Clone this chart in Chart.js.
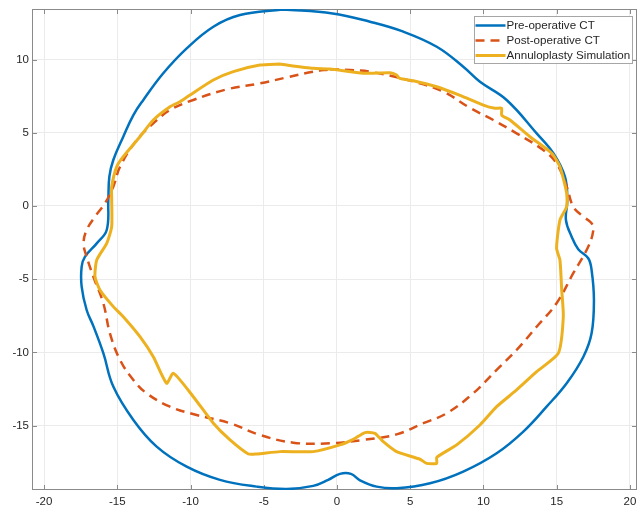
<!DOCTYPE html>
<html>
<head>
<meta charset="utf-8">
<script src="https://cdn.jsdelivr.net/npm/chart.js@4/dist/chart.umd.min.js"></script>
<style>
    html, body { margin: 0; padding: 0; background: #fff; }
    #wrap { width: 638px; height: 513px; }
</style>
</head>
<body>
<div id="wrap"><canvas id="graficoContorno" width="638" height="513"></canvas></div>
<script>
// contorno preoperatorio (CT)
const preX = [-3.7, -0.3, 2.25, 4.53, 6.81, 8.62, 9.76, 11.58, 13.63, 14.77, 15.56, 15.72, 15.63, 16.02, 16.47, 17.15, 17.38, 17.54, 17.38, 16.82, 15.68, 14.31, 12.72, 10.9, 8.62, 6.35, 4.07, 2.71, 1.57, 0.95, 0.2, -0.6, -1.62, -3.43, -5.48, -7.99, -10.26, -12.31, -13.9, -15.27, -15.95, -16.63, -17.09, -17.43, -17.43, -17.2, -16.4, -15.72, -15.61, -15.54, -15.27, -14.59, -13.9, -13.22, -11.86, -10.26, -8.44, -6.62, -3.7];
const preY = [13.42, 13.15, 12.58, 11.9, 10.87, 9.51, 8.48, 7.24, 4.96, 3.6, 2.0, 0.41, -0.96, -2.1, -2.95, -3.57, -4.37, -6.42, -8.69, -10.29, -12.1, -13.7, -15.4, -16.88, -18.13, -18.93, -19.27, -19.16, -18.73, -18.29, -18.29, -18.7, -19.11, -19.32, -19.16, -18.7, -17.8, -16.43, -14.61, -12.33, -10.05, -8.2, -7.1, -5.51, -4.14, -3.46, -2.55, -1.64, 0.41, 2.0, 3.14, 4.73, 6.21, 7.24, 9.06, 10.76, 12.24, 13.04, 13.42];

// contorno postoperatorio (CT)
const postX = [-0.48, 0.89, 2.25, 5.21, 7.26, 9.08, 10.67, 12.26, 14.08, 14.99, 15.68, 16.13, 16.82, 17.38, 17.5, 17.15, 16.13, 14.99, 13.63, 12.26, 10.9, 9.3, 7.49, 5.89, 4.07, 1.8, -0.48, -2.98, -5.26, -7.3, -9.58, -11.4, -12.99, -13.9, -14.81, -15.5, -15.95, -16.63, -17.09, -17.3, -17.09, -16.5, -15.84, -15.27, -14.81, -13.67, -12.54, -11.4, -9.81, -7.53, -5.26, -3.43, -1.62, -0.48];
const postY = [9.33, 9.28, 9.17, 8.5, 7.8, 6.7, 5.87, 4.96, 3.82, 2.91, 1.32, -0.05, -0.73, -1.18, -1.64, -2.78, -4.59, -6.64, -8.24, -9.83, -11.19, -12.79, -14.15, -14.83, -15.59, -15.97, -16.2, -16.16, -15.63, -14.83, -14.27, -13.7, -12.79, -11.88, -10.51, -8.69, -6.64, -4.83, -3.46, -2.55, -1.64, -0.7, 0.18, 1.32, 2.68, 4.5, 5.64, 6.55, 7.24, 7.96, 8.37, 8.78, 9.17, 9.33];

// simulacion de anuloplastia
const simX = [-3.89, -1.62, -0.48, 1.8, 3.62, 4.07, 4.28, 5.21, 6.81, 8.4, 9.99, 10.78, 11.24, 11.24, 11.81, 13.17, 14.66, 15.22, 15.68, 15.68, 15.22, 14.99, 15.22, 15.34, 15.45, 15.11, 13.63, 12.26, 10.9, 9.76, 8.17, 6.81, 6.81, 6.12, 5.67, 4.07, 3.16, 2.59, 1.91, 1.11, 0.2, -1.62, -3.89, -5.48, -6.05, -7.3, -8.44, -9.81, -11.17, -11.63, -12.54, -13.45, -14.59, -15.27, -16.18, -16.52, -16.4, -15.72, -15.38, -15.38, -15.38, -15.04, -14.59, -13.45, -12.54, -11.4, -10.72, -10.03, -8.44, -7.08, -5.26, -3.89];
const simY = [9.69, 9.4, 9.35, 9.06, 9.1, 8.94, 8.71, 8.55, 8.14, 7.55, 6.89, 6.67, 6.67, 6.21, 5.87, 4.73, 3.6, 2.68, 0.87, -0.05, -0.96, -2.89, -3.69, -5.73, -7.56, -10.05, -11.31, -12.56, -13.7, -14.95, -16.31, -17.16, -17.57, -17.57, -17.29, -16.77, -16.09, -15.52, -15.47, -15.93, -16.31, -16.77, -16.77, -16.93, -16.93, -15.97, -14.83, -13.02, -11.42, -12.1, -10.29, -8.92, -7.56, -6.87, -5.73, -4.83, -3.69, -2.55, -1.41, 0.41, 1.32, 2.68, 3.37, 4.73, 5.87, 6.78, 7.12, 7.58, 8.6, 9.17, 9.62, 9.69];

const etiquetas = ["Pre-operative CT", "Post-operative CT", "Annuloplasty Simulation"];
const ticksX = [-20, -15, -10, -5, 0, 5, 10, 15, 20];
const ticksY = [-15, -10, -5, 0, 5, 10];

const puntos = (xs, ys) => xs.map((x, i) => ({ x: x, y: ys[i] }));

const fuente = "'Liberation Sans', Arial, sans-serif";
const colorEje = "#8a8a8a";

// marco tipo matlab con ticks hacia dentro
const pluginMarco = {
    id: "marco",
    beforeDatasetsDraw(chart) {
        const { ctx, chartArea: a, scales } = chart;
        ctx.save();
        ctx.strokeStyle = colorEje;
        ctx.lineWidth = 1;
        ctx.beginPath();
        ticksX.forEach((v) => {
            const px = Math.round(scales.x.getPixelForValue(v)) + 0.5;
            ctx.moveTo(px, a.bottom);
            ctx.lineTo(px, a.bottom - 5);
            ctx.moveTo(px, a.top);
            ctx.lineTo(px, a.top + 5);
        });
        ticksY.forEach((v) => {
            const py = Math.round(scales.y.getPixelForValue(v)) + 0.5;
            ctx.moveTo(a.left, py);
            ctx.lineTo(a.left + 5, py);
            ctx.moveTo(a.right, py);
            ctx.lineTo(a.right - 5, py);
        });
        ctx.stroke();
        ctx.strokeRect(a.left + 0.5, a.top + 0.5, a.right - a.left - 1, a.bottom - a.top - 1);
        ctx.restore();
    },
};

// leyenda dentro del area, arriba a la derecha
const pluginLeyenda = {
    id: "leyendaCaja",
    afterDatasetsDraw(chart) {
        const { ctx } = chart;
        const x0 = 474.5, y0 = 16.5, w = 158, h = 47;
        ctx.save();
        ctx.fillStyle = "#ffffff";
        ctx.fillRect(x0, y0, w, h);
        ctx.strokeStyle = "#a6a6a6";
        ctx.lineWidth = 1;
        ctx.strokeRect(x0, y0, w, h);
        chart.data.datasets.forEach((ds, i) => {
            const yy = y0 + 9 + i * 15;
            ctx.strokeStyle = ds.borderColor;
            ctx.lineWidth = ds.borderWidth;
            ctx.setLineDash(ds.borderDash || []);
            ctx.beginPath();
            ctx.moveTo(x0 + 1, yy);
            ctx.lineTo(x0 + 31, yy);
            ctx.stroke();
            ctx.setLineDash([]);
            ctx.fillStyle = "#262626";
            ctx.font = "11.6px " + fuente;
            ctx.textBaseline = "middle";
            ctx.textAlign = "left";
            ctx.fillText(ds.label, x0 + 32, yy + 0.5);
        });
        ctx.restore();
    },
};

const dataGrafico = {
    datasets: [
        {
            label: etiquetas[0],
            data: puntos(preX, preY),
            borderColor: "#0072BD",
            borderWidth: 2.5,
            tension: 0.4,
            order: 3,
        },
        {
            label: etiquetas[1],
            data: puntos(postX, postY),
            borderColor: "#D95319",
            borderWidth: 2.5,
            borderDash: [9, 6],
            tension: 0.4,
            order: 2,
        },
        {
            label: etiquetas[2],
            data: puntos(simX, simY),
            borderColor: "#EDB120",
            borderWidth: 3,
            tension: 0.2,
            order: 1,
        },
    ],
};

const escala = (min, max, ticks, lado) => ({
    type: "linear",
    min: min,
    max: max,
    afterBuildTicks: (s) => {
        s.ticks = ticks.map((v) => ({ value: v }));
    },
    afterFit: (s) => {
        if (lado === "x") s.height = 23;
        else s.width = 32;
        s.paddingLeft = 0;
        s.paddingRight = 0;
        s.paddingTop = 0;
        s.paddingBottom = 0;
    },
    grid: {
        color: "#ebebeb",
        drawTicks: false,
    },
    border: {
        display: false,
    },
    ticks: {
        color: "#262626",
        padding: lado === "x" ? 5 : 3,
        font: { size: 11.5, family: fuente },
    },
});

const configGrafico = {
    type: "scatter",
    data: dataGrafico,
    options: {
        responsive: false,
        animation: false,
        devicePixelRatio: 1,
        showLine: true,
        elements: {
            point: { radius: 0, hoverRadius: 0 },
            line: { fill: false, borderCapStyle: "butt", borderJoinStyle: "round" },
        },
        layout: {
            padding: { top: 9, right: 1, left: 0, bottom: 0 },
        },
        plugins: {
            legend: { display: false },
            tooltip: { enabled: false },
        },
        scales: {
            x: escala(-20.82, 20.48, ticksX, "x"),
            y: escala(-19.39, 13.45, ticksY, "y"),
        },
    },
    plugins: [pluginMarco, pluginLeyenda],
};

const chartContorno = new Chart(document.getElementById("graficoContorno"), configGrafico);
</script>
</body>
</html>
